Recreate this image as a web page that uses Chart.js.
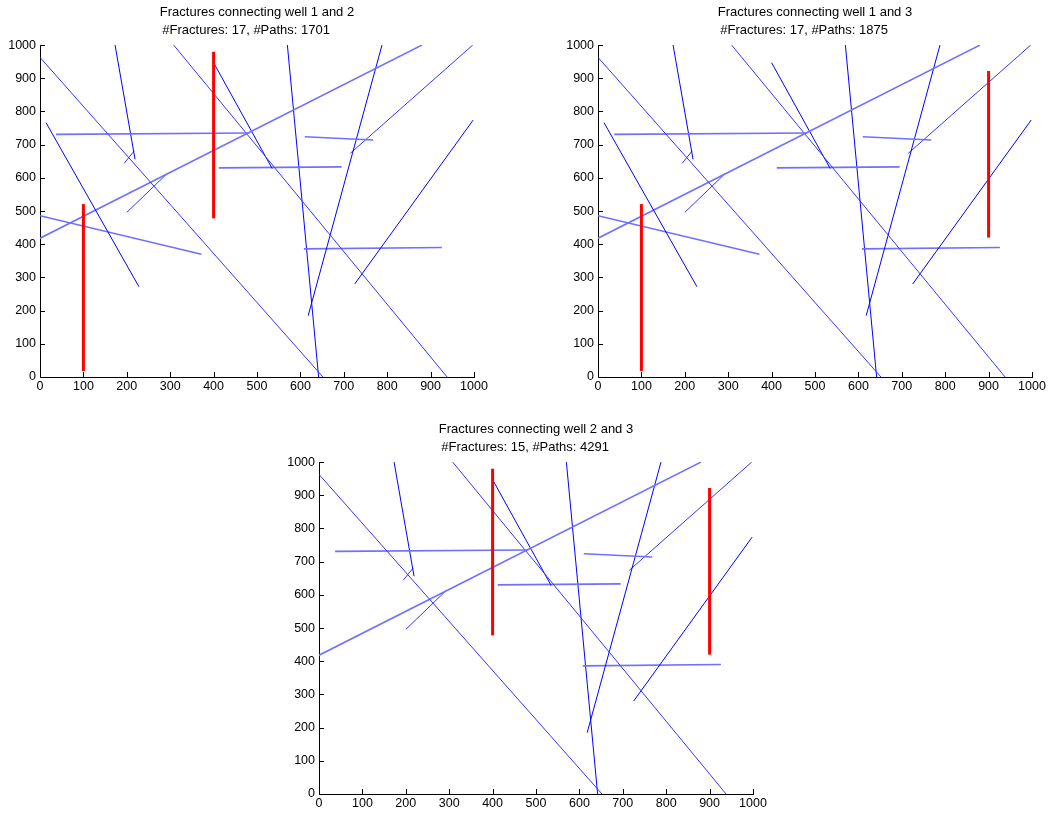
<!DOCTYPE html>
<html>
<head>
<meta charset="utf-8">
<script src="https://cdn.jsdelivr.net/npm/chart.js@4/dist/chart.umd.min.js"></script>
<style>
  body { margin: 0; background: #fff; }
  canvas { position: absolute; }
</style>
</head>
<body>
<canvas id="c12" width="490" height="395" style="left:0px;top:0px"></canvas>
<canvas id="c13" width="490" height="395" style="left:558px;top:0px"></canvas>
<canvas id="c23" width="490" height="395" style="left:279px;top:417px"></canvas>
<script>
// Fracture end points (x1,y1) -> (x2,y2)
const fracX1 = [0, 14, 37, 173, 194, 0, 200, 0, 308, 400, 412, 610, 618, 715, 725, 608, 570];
const fracY1 = [963, 766, 731, 1000, 644, 418, 496, 486, 1000, 947, 630, 724, 185, 674, 280, 386, 1000];
const fracX2 = [652, 228, 482, 219, 217, 880, 293, 372, 938, 535, 695, 768, 788, 997, 998, 926, 642];
const fracY2 = [0, 272, 735, 656, 681, 1000, 613, 370, 0, 628, 633, 714, 1000, 1000, 774, 390, 0];

// Wells (vertical red segments)
const wellX = [100, 400, 900];
const wellYBottom = [18, 478, 420];
const wellYTop = [521, 980, 922];

// One entry per chart
const chartIds = ["c12", "c13", "c23"];
const chartWells = [[0, 1], [0, 2], [1, 2]];
const chartFractures = [
  [0, 1, 2, 3, 4, 5, 6, 7, 8, 9, 10, 11, 12, 13, 14, 15, 16],
  [0, 1, 2, 3, 4, 5, 6, 7, 8, 9, 10, 11, 12, 13, 14, 15, 16],
  [0, 2, 3, 4, 5, 6, 8, 9, 10, 11, 12, 13, 14, 15, 16]
];
const numFractures = [17, 17, 15];
const numPaths = [1701, 1875, 4291];

const tickValues = [0, 100, 200, 300, 400, 500, 600, 700, 800, 900, 1000];

// colour by on-screen steepness (steep lines look darker in the original)
function fracStyle(i) {
  const dx = Math.abs(fracX2[i] - fracX1[i]) * 0.434;
  const dy = Math.abs(fracY2[i] - fracY1[i]) * 0.332;
  const s = dx === 0 ? 99 : dy / dx;
  if (s > 1.3) return { color: "#0000ff", width: 1 };
  if (s > 0.8) return { color: "#3535ff", width: 1 };
  return { color: "#7070ff", width: 1.6 };
}

const inwardTicks = {
  id: "inwardTicks",
  afterDraw(chart) {
    const { ctx, chartArea: a, scales: { x, y } } = chart;
    ctx.save();
    ctx.strokeStyle = "#000";
    ctx.lineWidth = 1;
    ctx.beginPath();
    x.ticks.forEach(t => {
      const px = Math.round(x.getPixelForValue(t.value)) + 0.5;
      ctx.moveTo(px, a.bottom);
      ctx.lineTo(px, a.bottom - 5);
    });
    y.ticks.forEach(t => {
      const py = Math.round(y.getPixelForValue(t.value)) + 0.5;
      ctx.moveTo(a.left, py);
      ctx.lineTo(a.left + 5, py);
    });
    ctx.stroke();
    ctx.restore();
  }
};

function axis(isX) {
  return {
    type: "linear",
    min: 0,
    max: 1000,
    afterBuildTicks: s => { s.ticks = tickValues.map(v => ({ value: v })); },
    afterFit: s => { if (isX) s.height = 18; else s.width = 40; },
    grid: { display: false, drawTicks: false },
    border: { display: true, color: "#000", width: 1 },
    ticks: {
      color: "#000",
      padding: isX ? 2 : 4,
      maxRotation: 0,
      autoSkip: false,
      callback: v => String(v),
      font: { family: "'Liberation Sans', Arial, sans-serif", size: 12.5 }
    }
  };
}

chartIds.forEach((id, c) => {
  const datasets = [];
  chartWells[c].forEach(w => {
    datasets.push({
      data: [{ x: wellX[w], y: wellYBottom[w] }, { x: wellX[w], y: wellYTop[w] }],
      borderColor: "#ff0000",
      borderWidth: 3,
      showLine: true,
      pointRadius: 0,
      borderCapStyle: "butt"
    });
  });
  chartFractures[c].forEach(i => {
    const st = fracStyle(i);
    datasets.push({
      data: [{ x: fracX1[i], y: fracY1[i] }, { x: fracX2[i], y: fracY2[i] }],
      borderColor: st.color,
      borderWidth: st.width,
      showLine: true,
      pointRadius: 0
    });
  });

  const wa = chartWells[c][0] + 1, wb = chartWells[c][1] + 1;
  new Chart(document.getElementById(id), {
    type: "scatter",
    data: { datasets },
    options: {
      responsive: false,
      animation: false,
      devicePixelRatio: 1,
      layout: { padding: { left: 0, right: 16, top: 0, bottom: 0 } },
      plugins: {
        legend: { display: false },
        tooltip: { enabled: false },
        title: {
          display: true,
          fullSize: false,
          text: [
            "Fractures connecting well " + wa + " and " + wb,
            "#Fractures: " + numFractures[c] + ", #Paths: " + numPaths[c] + "      "
          ],
          color: "#000",
          font: { family: "'Liberation Sans', Arial, sans-serif", size: 13, weight: "normal", lineHeight: 1.35 },
          padding: { top: 4, bottom: 6 }
        }
      },
      scales: { x: axis(true), y: axis(false) }
    },
    plugins: [inwardTicks]
  });
});
</script>
</body>
</html>
